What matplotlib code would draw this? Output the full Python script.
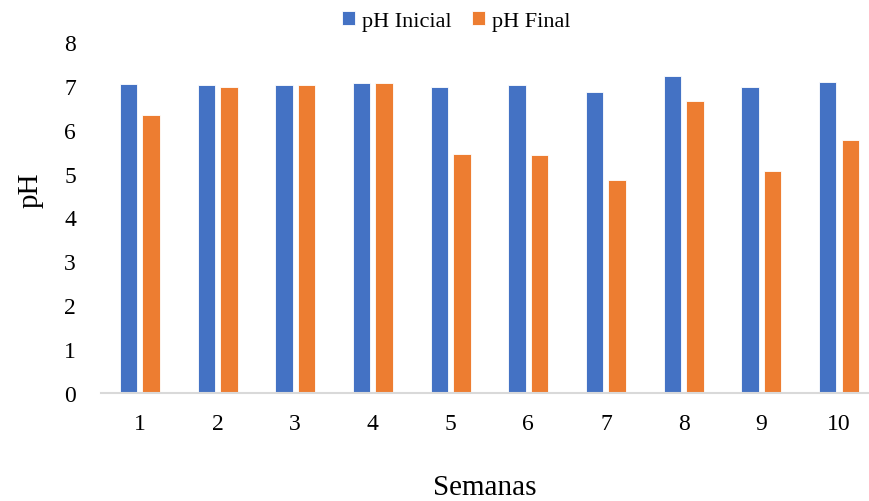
import matplotlib
matplotlib.use("Agg")
import matplotlib.pyplot as plt
import numpy as np

# weekly pH readings
semanas = ['1', '2', '3', '4', '5', '6', '7', '8', '9', '10']
ph_inicial = [7.05, 7.03, 7.03, 7.08, 6.97, 7.03, 6.86, 7.23, 6.97, 7.10]
ph_final = [6.34, 6.97, 7.03, 7.08, 5.46, 5.42, 4.86, 6.67, 5.07, 5.77]

plt.rcParams['font.family'] = ['Liberation Serif', 'DejaVu Serif']

fig = plt.figure(figsize=(8.69, 5.02), dpi=100)
ax = fig.add_axes([0.1162, 0.2161, 0.894, 0.6976])

x = np.arange(len(semanas))
w = 0.225
ax.bar(x - 0.145, ph_inicial, w, color='#4472C4', edgecolor='white', linewidth=0.6, label='pH Inicial')
ax.bar(x + 0.145, ph_final, w, color='#ED7D31', edgecolor='white', linewidth=0.6, label='pH Final')

ax.set_xlim(-0.5, len(semanas) - 0.5)
ax.set_ylim(0, 8)
ax.set_xticks(x)
ax.set_xticklabels(semanas)
ax.set_yticks(range(0, 9))

for s in ['top', 'right', 'left']:
    ax.spines[s].set_visible(False)
ax.spines['bottom'].set_color('#D9D9D9')
ax.spines['bottom'].set_linewidth(1.5)
ax.tick_params(axis='both', length=0, labelsize=17)
ax.tick_params(axis='x', pad=15)
ax.tick_params(axis='y', pad=18)

fig.text(0.035, 0.622, 'pH', rotation=90, fontsize=21, ha='center', va='center')
fig.text(0.558, 0.028, 'Semanas', fontsize=21, ha='center', va='center')

fig.legend(loc='center', bbox_to_anchor=(0.525, 0.956), ncol=2, frameon=False,
           fontsize=16, handlelength=0.6, handleheight=0.6, handletextpad=0.3,
           columnspacing=0.9)

fig.savefig('out.png', dpi=100)
